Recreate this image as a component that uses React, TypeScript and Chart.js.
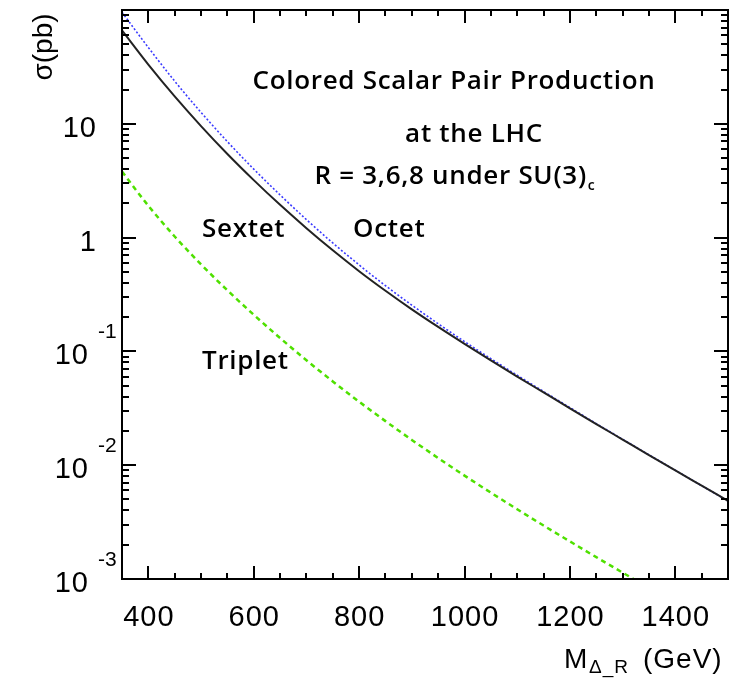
import React, { useEffect, useRef } from "react";
import { Chart, registerables } from "chart.js";

Chart.register(...registerables);

// ---- data ----
const MASS = [350, 400, 450, 500, 550, 600, 650, 700, 750, 800, 850, 900, 950, 1000, 1050, 1100, 1150, 1200, 1250, 1300, 1350, 1400, 1450, 1500];
const SEXTET = [66.1, 33.1, 17.4, 9.55, 5.43, 3.2, 1.94, 1.21, 0.773, 0.507, 0.341, 0.234, 0.164, 0.1164, 0.0834, 0.0601, 0.0436, 0.0316, 0.023, 0.0168, 0.01227, 0.00899, 0.00661, 0.00486];
const OCTET = [95.5, 46.8, 23.7, 12.6, 6.97, 4.0, 2.37, 1.44, 0.897, 0.575, 0.378, 0.255, 0.175, 0.122, 0.0863, 0.0617, 0.0444, 0.0321, 0.0232, 0.0169, 0.01233, 0.00902, 0.00661, 0.00484];
const TRIPLET_MASS = [350, 400, 450, 500, 550, 600, 650, 700, 750, 800, 850, 900, 950, 1000, 1050, 1100, 1150, 1200, 1250, 1300, 1350];
const TRIPLET = [3.8, 1.905, 1.023, 0.582, 0.344, 0.21, 0.131, 0.0836, 0.0545, 0.0361, 0.0244, 0.01667, 0.01156, 0.0081, 0.00574, 0.0041, 0.00295, 0.00214, 0.001556, 0.001138, 0.000836];

const X_MIN = 350;
const X_MAX = 1500;
const Y_MIN = 0.001;
const Y_MAX = 100;
const X_MAJOR_TICKS = [400, 600, 800, 1000, 1200, 1400];
const X_MINOR_TICKS = [450, 500, 550, 650, 700, 750, 850, 900, 950, 1050, 1100, 1150, 1250, 1300, 1350, 1450];
const Y_MAJOR_TICKS = [0.001, 0.01, 0.1, 1, 10, 100];
const Y_MINOR_MULTIPLIERS = [2, 3, 4, 5, 6, 7, 8, 9];
const Y_LABEL_VALUES = [10, 1, 0.1, 0.01, 0.001];
const Y_LABEL_BASES = ["10", "1", "10", "10", "10"];
const Y_LABEL_EXPONENTS = ["", "", "-1", "-2", "-3"];

const toPoints = (xs: number[], ys: number[]) => xs.map((x, i) => ({ x, y: ys[i] }));

const NUM_FONT = '29px "Liberation Sans", Arial, sans-serif';
const ANN_FONT = '600 26px "Open Sans", Lato, sans-serif';

const framePlugin = {
  id: "frameAndText",
  afterDraw(chart: any) {
    const { ctx, chartArea, scales } = chart;
    const left = chartArea.left;
    const right = chartArea.right;
    const top = chartArea.top;
    const bottom = chartArea.bottom;
    const xs = scales.x;
    const ys = scales.y;
    ctx.save();
    ctx.setLineDash([]);
    ctx.fillStyle = "#000000";

    // frame
    const t = 2;
    ctx.fillRect(left - 1, top - 1, right - left + 2, t);
    ctx.fillRect(left - 1, bottom - 1, right - left + 2, t);
    ctx.fillRect(left - 1, top - 1, t, bottom - top + 2);
    ctx.fillRect(right - 1, top - 1, t, bottom - top + 2);

    // x ticks (bottom and top, inward)
    const xPositions: { p: number; len: number }[] = [];
    X_MAJOR_TICKS.forEach((v) => xPositions.push({ p: Math.round(xs.getPixelForValue(v)), len: 13 }));
    X_MINOR_TICKS.forEach((v) => xPositions.push({ p: Math.round(xs.getPixelForValue(v)), len: 6 }));
    for (const tk of xPositions) {
      ctx.fillRect(tk.p - 1, bottom - tk.len, 2, tk.len);
      ctx.fillRect(tk.p - 1, top, 2, tk.len);
    }

    // y ticks (left and right, inward)
    const yPositions: { p: number; len: number }[] = [];
    Y_MAJOR_TICKS.forEach((d) => {
      yPositions.push({ p: Math.round(ys.getPixelForValue(d)), len: 14 });
      Y_MINOR_MULTIPLIERS.forEach((m) => {
        const v = d * m;
        if (v < Y_MAX) yPositions.push({ p: Math.round(ys.getPixelForValue(v)), len: 7 });
      });
    });
    for (const tk of yPositions) {
      ctx.fillRect(left, tk.p - 1, tk.len, 2);
      ctx.fillRect(right - tk.len, tk.p - 1, tk.len, 2);
    }

    // x tick labels
    ctx.font = NUM_FONT;
    (ctx as any).letterSpacing = "1px";
    ctx.textAlign = "center";
    ctx.textBaseline = "alphabetic";
    X_MAJOR_TICKS.forEach((v) => {
      ctx.fillText(String(v), xs.getPixelForValue(v) + 0.5, 626);
    });

    // y tick labels
    Y_LABEL_VALUES.forEach((v, i) => {
      const py = ys.getPixelForValue(v);
      ctx.font = NUM_FONT;
      (ctx as any).letterSpacing = "1px";
      ctx.textBaseline = "alphabetic";
      if (!Y_LABEL_EXPONENTS[i]) {
        ctx.textAlign = "right";
        ctx.fillText(Y_LABEL_BASES[i], 97, py + 13);
      } else {
        ctx.textAlign = "right";
        ctx.fillText(Y_LABEL_BASES[i], 89, py + 13);
        ctx.font = '21px "Liberation Sans", Arial, sans-serif';
        (ctx as any).letterSpacing = "0px";
        ctx.textAlign = "left";
        ctx.fillText(Y_LABEL_EXPONENTS[i], 98, py - 13);
      }
    });

    // y axis title
    ctx.save();
    ctx.translate(52, 47);
    ctx.rotate(-Math.PI / 2);
    ctx.font = '28px "Liberation Sans", Arial, sans-serif';
    (ctx as any).letterSpacing = "0px";
    ctx.textAlign = "center";
    ctx.textBaseline = "alphabetic";
    ctx.fillText("σ(pb)", 0, 0);
    ctx.restore();

    // x axis title: M_{Δ_R} (GeV)
    ctx.textAlign = "left";
    ctx.textBaseline = "alphabetic";
    (ctx as any).letterSpacing = "0px";
    ctx.font = '28px "Liberation Sans", Arial, sans-serif';
    ctx.fillText("M", 564, 668);
    ctx.font = '19px "Liberation Sans", Arial, sans-serif';
    (ctx as any).letterSpacing = "1px";
    ctx.fillText("Δ_R", 589, 673);
    ctx.font = '28px "Liberation Sans", Arial, sans-serif';
    ctx.fillText("(GeV)", 643, 668);

    // annotations
    ctx.font = ANN_FONT;
    (ctx as any).letterSpacing = "0.7px";
    ctx.textAlign = "center";
    ctx.textBaseline = "middle";
    ctx.fillText("Colored Scalar Pair Production", 454, 82);
    ctx.fillText("at the LHC", 474, 135);
    const l3 = "R = 3,6,8 under SU(3)";
    const w3 = ctx.measureText(l3).width;
    ctx.font = '600 14px "Open Sans", Lato, sans-serif';
    const wc = ctx.measureText("c").width;
    const startX = 455 - (w3 + wc + 1) / 2;
    ctx.font = ANN_FONT;
    ctx.textAlign = "left";
    ctx.fillText(l3, startX, 177);
    ctx.font = '600 14px "Open Sans", Lato, sans-serif';
    ctx.fillText("c", startX + w3 + 1, 186);
    ctx.font = ANN_FONT;
    ctx.fillText("Sextet", 202, 230);
    ctx.fillText("Octet", 353, 230);
    ctx.fillText("Triplet", 202, 362);
    ctx.restore();
  },
};

export default function App() {
  const ref = useRef<HTMLCanvasElement | null>(null);
  useEffect(() => {
    document.body.style.margin = "0";
    const canvas = ref.current;
    if (!canvas) return;
    const chart = new Chart(canvas, {
      type: "scatter",
      data: {
        datasets: [
          {
            label: "Triplet",
            data: toPoints(TRIPLET_MASS, TRIPLET),
            showLine: true,
            borderColor: "#4fe000",
            borderWidth: 2.5,
            borderDash: [5, 4],
            pointRadius: 0,
            cubicInterpolationMode: "monotone",
          },
          {
            label: "Sextet",
            data: toPoints(MASS, SEXTET),
            showLine: true,
            borderColor: "#222222",
            borderWidth: 2,
            pointRadius: 0,
            cubicInterpolationMode: "monotone",
          },
          {
            label: "Octet",
            data: toPoints(MASS, OCTET),
            showLine: true,
            borderColor: "#3a3aff",
            borderWidth: 1.6,
            borderDash: [2, 2],
            pointRadius: 0,
            cubicInterpolationMode: "monotone",
          },
        ],
      },
      options: {
        animation: false,
        responsive: false,
        devicePixelRatio: 1,
        layout: { padding: { left: 122, right: 12, top: 10, bottom: 101 } },
        plugins: { legend: { display: false }, tooltip: { enabled: false } },
        scales: {
          x: { type: "linear", min: X_MIN, max: X_MAX, display: false },
          y: { type: "logarithmic", min: Y_MIN, max: Y_MAX, display: false },
        },
      },
      plugins: [framePlugin],
    } as any);
    return () => chart.destroy();
  }, []);
  return (
    <div style={{ width: 740, height: 680, background: "#fff" }}>
      <canvas ref={ref} width={740} height={680} style={{ display: "block" }} />
    </div>
  );
}
